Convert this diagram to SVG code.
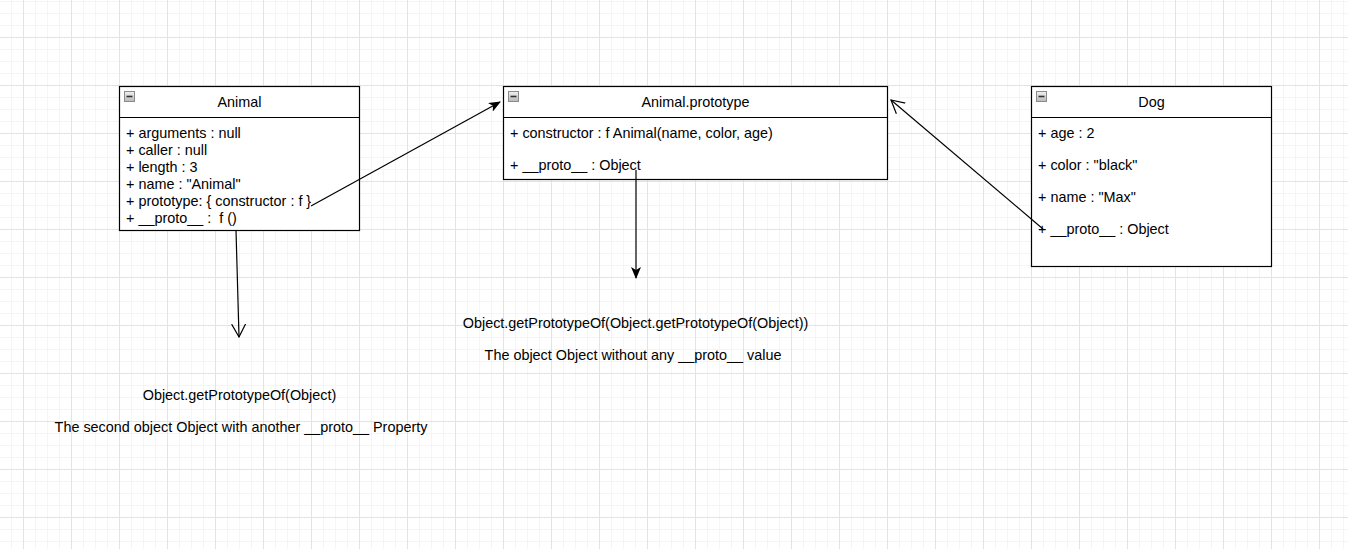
<svg xmlns="http://www.w3.org/2000/svg" width="1348" height="549" viewBox="0 0 1348 549">
<style>
text{font-family:"Liberation Sans",Arial,sans-serif;font-size:14.4px;fill:#000;white-space:pre}
.t{text-anchor:middle}
.box{fill:#fff;stroke:#000;stroke-width:1.2}
.div{stroke:#000;stroke-width:1.2}
.edge{fill:none;stroke:#000;stroke-width:1.2}
</style>
<defs>
<pattern id="minor" x="23" y="37" width="12" height="12" patternUnits="userSpaceOnUse">
<path d="M0,0.5 H12 M0.5,0 V12" stroke="#f5f5f5" stroke-width="1" fill="none"/>
</pattern>
<pattern id="major" x="23" y="37" width="48" height="48" patternUnits="userSpaceOnUse">
<path d="M0,0.5 H48 M0.5,0 V48" stroke="#e3e3e3" stroke-width="1" fill="none"/>
</pattern>
<linearGradient id="ig" x1="0" y1="0" x2="0" y2="1">
<stop offset="0" stop-color="#f2f2f2"/>
<stop offset="1" stop-color="#b8b8b8"/>
</linearGradient>
<marker id="block" viewBox="0 0 12 10" refX="11" refY="5" markerWidth="12" markerHeight="10" markerUnits="userSpaceOnUse" orient="auto">
<path d="M0,0 L12,5 L0,10 L3,5 z" fill="#000"/>
</marker>
<marker id="open" viewBox="0 0 14 16" refX="13" refY="8" markerWidth="14" markerHeight="16" markerUnits="userSpaceOnUse" orient="auto">
<path d="M0,1 L13,8 L0,15" fill="none" stroke="#000" stroke-width="1.2"/>
</marker>
<g id="icon">
<rect x="0.5" y="0.5" width="10" height="10" fill="url(#ig)" stroke="#8a8a8a" stroke-width="1"/>
<line x1="2.5" y1="5.5" x2="8.5" y2="5.5" stroke="#333" stroke-width="1.6"/>
</g>
</defs>
<rect width="1348" height="549" fill="#fff"/>
<rect width="1348" height="549" fill="url(#minor)"/>
<rect width="1348" height="549" fill="url(#major)"/>

<g id="animal">
<rect class="box" x="119.5" y="86.5" width="240" height="144"/>
<line class="div" x1="119.5" y1="117.5" x2="359.5" y2="117.5"/>
<use href="#icon" x="124" y="91"/>
<text class="t" x="239.5" y="107">Animal</text>
<text x="126" y="138">+ arguments : null</text>
<text x="126" y="155">+ caller : null</text>
<text x="126" y="172">+ length : 3</text>
<text x="126" y="189">+ name : "Animal"</text>
<text x="126" y="206">+ prototype: { constructor : f }</text>
<text x="126" y="223">+ __proto__ :  f ()</text>
</g>

<g id="animal-prototype">
<rect class="box" x="503.5" y="86.5" width="384" height="93"/>
<line class="div" x1="503.5" y1="117.5" x2="887.5" y2="117.5"/>
<use href="#icon" x="508" y="91"/>
<text class="t" x="695.5" y="107">Animal.prototype</text>
<text x="510" y="138">+ constructor : f Animal(name, color, age)</text>
<text x="510" y="170">+ __proto__ : Object</text>
</g>

<g id="dog">
<rect class="box" x="1031.5" y="86.5" width="240" height="180"/>
<line class="div" x1="1031.5" y1="117.5" x2="1271.5" y2="117.5"/>
<use href="#icon" x="1036" y="91"/>
<text class="t" x="1151.5" y="107">Dog</text>
<text x="1038" y="138">+ age : 2</text>
<text x="1038" y="170">+ color : "black"</text>
<text x="1038" y="202">+ name : "Max"</text>
<text x="1038" y="234">+ __proto__ : Object</text>
</g>

<g id="label-object-proto">
<text class="t" x="239.5" y="400">Object.getPrototypeOf(Object)</text>
<text class="t" x="241" y="432">The second object Object with another __proto__ Property</text>
</g>

<g id="label-object-null">
<text class="t" x="635.5" y="328">Object.getPrototypeOf(Object.getPrototypeOf(Object))</text>
<text class="t" x="633" y="360">The object Object without any __proto__ value</text>
</g>

<g id="connectors">
<path class="edge" d="M311,206 L500,102" marker-end="url(#block)"/>
<path class="edge" d="M1043,229 L891,100" marker-end="url(#open)"/>
<path class="edge" d="M236,230 L239,337" marker-end="url(#open)"/>
<path class="edge" d="M636,170 L636,278" marker-end="url(#block)"/>
</g>
</svg>
